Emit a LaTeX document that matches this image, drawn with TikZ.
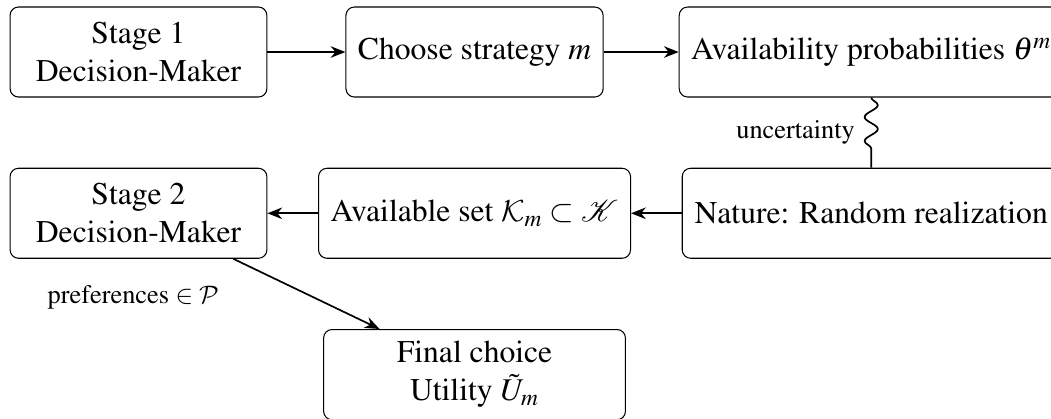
\documentclass[tikz,border=0pt]{standalone}
\usepackage[T1]{fontenc}
\usepackage{mathptmx}
\IfFileExists{mathrsfs.sty}{\usepackage{mathrsfs}}{\providecommand{\mathscr}{\mathcal}}
\DeclareMathAlphabet{\mathcal}{OMS}{cmsy}{m}{n}
\usetikzlibrary{arrows.meta, positioning, decorations.pathmorphing}
\tikzset{
  block/.style = {
    rectangle, rounded corners=4pt, draw=black, line width=0.5pt,
    minimum width=4.28cm, minimum height=1.5cm, inner sep=0.2cm,
    align=center, font=\fontsize{15}{18}\selectfont
  },
  myarrow/.style = {-{Stealth[length=7pt, width=5.5pt]}, thick},
  wavyline/.style = {thick, decorate,
    decoration={snake, amplitude=1.1mm, segment length=4mm, post length=1.5mm}},
  edgelabel/.style = {font=\fontsize{12.5}{14}\selectfont}
}

\begin{document}
\begin{tikzpicture}
  \useasboundingbox (0,0) rectangle (17.517,-6.967);
  % Nodes
  \node[block] (dm1) at (2.308,-0.867) {Stage 1\\Decision-Maker};
  \node[block, right=1.3cm of dm1] (strategy) {Choose strategy $m$};
  \node[block, right=1.25cm of strategy, minimum width=6.3cm] (theta) {Availability probabilities $\theta^m$};
  \node[block, below=1.17cm of theta, minimum width=6.3cm] (nature) {Nature: Random realization};
  \node[block, minimum width=5.2cm] (avail) at (strategy |- nature) {Available set $\mathcal{K}_m \subset \mathscr{K}$};
  \node[block] (dm2) at (dm1 |- nature) {Stage 2\\Decision-Maker};
  \node[block, below=1.17cm of avail, minimum width=5.03cm] (final) {Final choice\\Utility $\tilde{U}_m$};

  % Connections
  \draw[myarrow] (dm1) -- (strategy);
  \draw[myarrow] (strategy) -- (theta);
  \draw[wavyline] (theta) -- node[edgelabel, left=4pt] {uncertainty} (nature);
  \draw[myarrow] (nature) -- (avail);
  \draw[myarrow] (avail) -- (dm2);
  \draw[myarrow] (dm2) -- node[edgelabel, pos=0.55, left=1.45cm] {preferences $\in \mathcal{P}$} (final);
\end{tikzpicture}
\end{document}
